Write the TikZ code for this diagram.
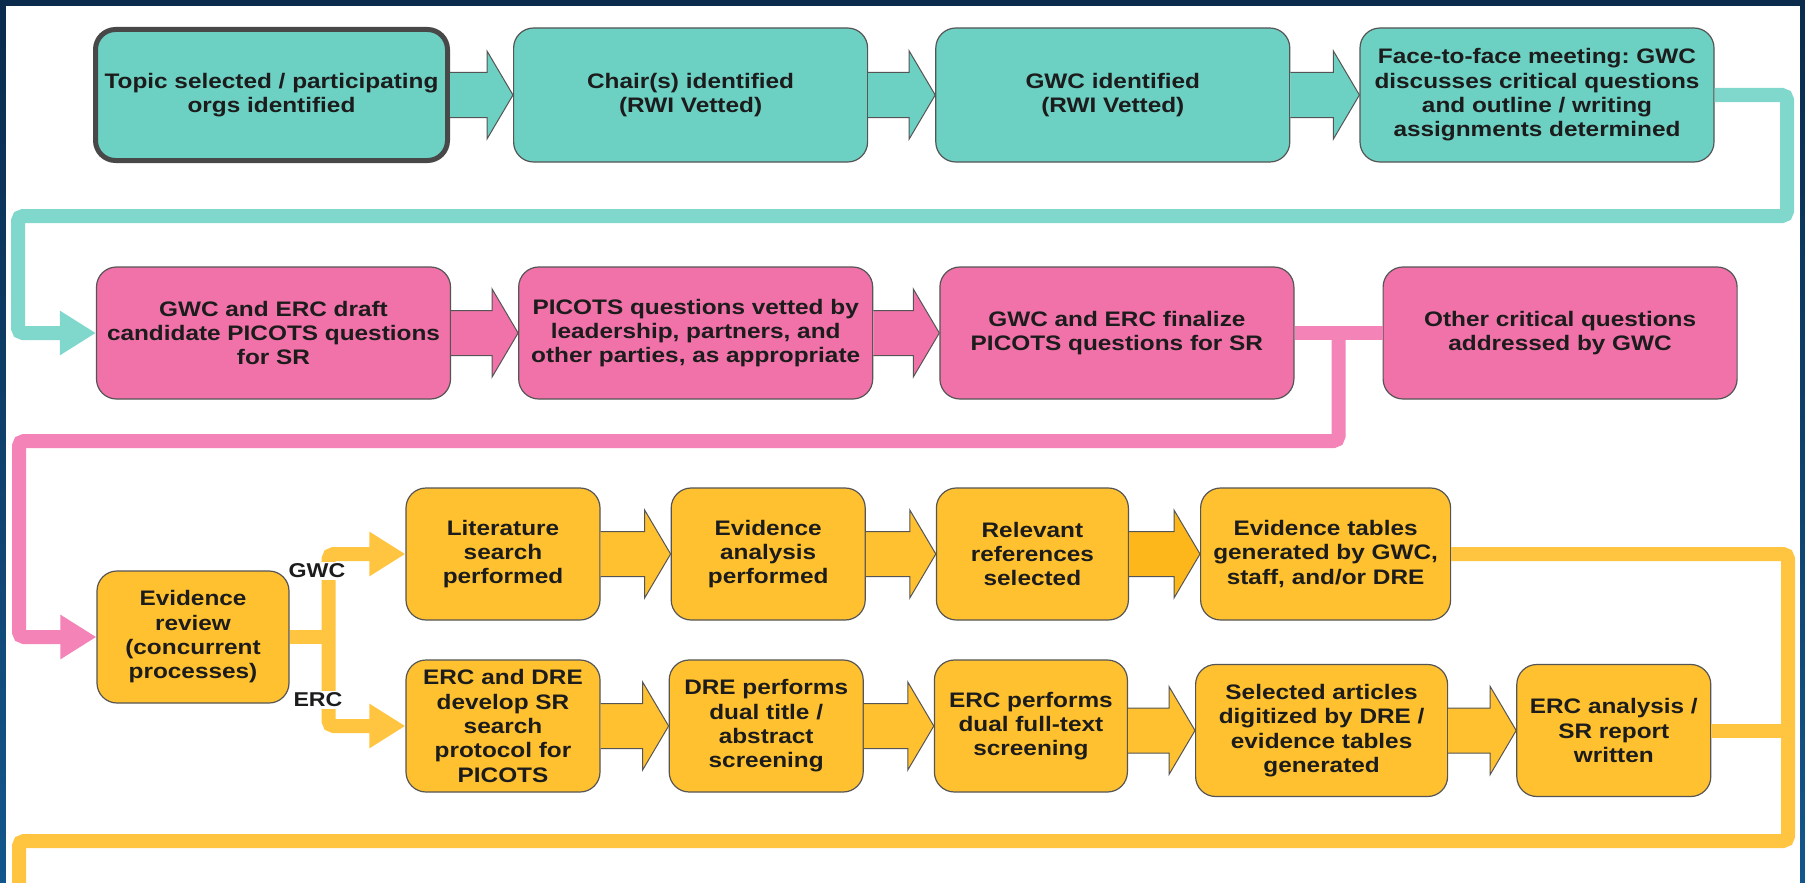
\documentclass[tikz,border=0pt]{standalone}
\usepackage{fontspec}
\setmainfont{Liberation Sans}[FakeStretch=1.16]
\usetikzlibrary{arrows.meta,positioning,calc}
\definecolor{navytop}{HTML}{0A2B4C}
\definecolor{navybot}{HTML}{13568C}
\definecolor{tealfill}{HTML}{6CD0C3}
\definecolor{pinkfill}{HTML}{F072A9}
\definecolor{goldfill}{HTML}{FFC12F}
\definecolor{golddeep}{HTML}{FDB71B}
\definecolor{teallink}{HTML}{80D8CC}
\definecolor{pinklink}{HTML}{F483B7}
\definecolor{goldlink}{HTML}{FFC540}
\definecolor{edge}{HTML}{555555}
\definecolor{ink}{HTML}{1C1C1C}
\newcommand{\boxfont}{\fontsize{21}{24.3}\selectfont\bfseries}
\frenchspacing
\tikzset{
  stage/.style={draw=edge,line width=1.2pt,rounded corners=20pt,align=center,inner sep=4pt,font=\boxfont,text=ink},
  tealstage/.style={stage,fill=tealfill,minimum width=354pt,minimum height=134pt},
  pinkstage/.style={stage,fill=pinkfill,minimum width=354pt,minimum height=132pt},
  goldstage/.style={stage,fill=goldfill,minimum width=194pt,minimum height=132pt},
  link/.style={line width=14pt,rounded corners=5pt},
  head/.style={-{Triangle[length=36pt,width=42pt]}},
  fat/.style={draw=edge,line width=1pt},
  branch/.style={font=\fontsize{20}{22}\selectfont\bfseries,text=ink,fill=white,inner sep=2pt}
}
\newcommand{\fatarrow}[3]{%
  \filldraw[fat,fill=#3] let \p1=(#1.east), \p2=(#2.west) in
    (\x1,\y2+22.5pt) -- (\x2-26pt,\y2+22.5pt) -- (\x2-26pt,\y2+44pt) -- (\x2,\y2)
    -- (\x2-26pt,\y2-44pt) -- (\x2-26pt,\y2-22.5pt) -- (\x1,\y2-22.5pt);
}

\begin{document}
\begin{tikzpicture}[x=1pt,y=-1pt]
  \useasboundingbox (0,0) rectangle (1805,883);
  \shade[top color=navytop,bottom color=navybot] (0,0) rectangle (1805,883);
  \fill[white] (6,6) rectangle (1800,900);

  \node[tealstage,draw=edge!85!black,line width=5pt,minimum width=352pt,minimum height=131pt] (topic) at (271.5,95) {Topic selected / participating\\orgs identified};
  \node[tealstage,right=63pt of topic] (chair) {Chair(s) identified\\(RWI Vetted)};
  \node[tealstage,right=67pt of chair] (gwc) {GWC identified\\(RWI Vetted)};
  \node[tealstage,right=69pt of gwc] (meet) {Face-to-face meeting: GWC\\discusses critical questions\\and outline / writing\\assignments determined};

  \node[pinkstage] (draft) at (273.5,333) {GWC and ERC draft\\candidate PICOTS questions\\for SR};
  \node[pinkstage,right=67pt of draft] (vetted) {PICOTS questions vetted by\\leadership, partners, and\\other parties, as appropriate};
  \node[pinkstage,right=66pt of vetted] (final) {GWC and ERC finalize\\PICOTS questions for SR};
  \node[pinkstage,right=88pt of final] (other) {Other critical questions\\addressed by GWC};

  \node[goldstage,minimum width=192pt] (review) at (193,637) {Evidence\\review\\(concurrent\\processes)};
  \node[goldstage] (lit) at (503,554) {Literature\\search\\performed};
  \node[goldstage,right=70pt of lit] (anal) {Evidence\\analysis\\performed};
  \node[goldstage,minimum width=192pt,right=70pt of anal] (rel) {Relevant\\references\\selected};
  \node[goldstage,minimum width=250pt,right=71pt of rel] (tables) {Evidence tables\\generated by GWC,\\staff, and/or DRE};
  \node[goldstage] (proto) at (503,726) {ERC and DRE\\develop SR\\search\\protocol for\\PICOTS};
  \node[goldstage,right=68pt of proto] (dual) {DRE performs\\dual title /\\abstract\\screening};
  \node[goldstage,minimum width=193pt,right=70pt of dual] (full) {ERC performs\\dual full-text\\screening};
  \node[goldstage,minimum width=252pt,right=67pt of full,yshift=-4.5pt] (digit) {Selected articles\\digitized by DRE /\\evidence tables\\generated};
  \node[goldstage,right=68pt of digit] (report) {ERC analysis /\\SR report\\written};

  \fatarrow{topic}{chair}{tealfill}
  \fatarrow{chair}{gwc}{tealfill}
  \fatarrow{gwc}{meet}{tealfill}
  \fatarrow{draft}{vetted}{pinkfill}
  \fatarrow{vetted}{final}{pinkfill}
  \fatarrow{lit}{anal}{goldfill}
  \fatarrow{anal}{rel}{goldfill}
  \fatarrow{rel}{tables}{golddeep}
  \fatarrow{proto}{dual}{goldfill}
  \fatarrow{dual}{full}{goldfill}
  \fatarrow{full}{digit}{goldfill}
  \fatarrow{digit}{report}{goldfill}

  \draw[link,draw=teallink,head] (meet.east) -| (1787,216) -| (18,333) -- (draft.west);

  \coordinate (fork1) at ($(final.east)!0.5!(other.west)$);
  \draw[link,draw=pinklink] (final.east) -- (other.west);
  \draw[link,draw=pinklink,head] (fork1) |- (19,441) |- (review.west);

  \coordinate (fork2) at ($(review.east)+(39,0)$);
  \draw[link,draw=goldlink] (review.east) -- (fork2);
  \draw[link,draw=goldlink,head] (fork2) |- (lit.west);
  \draw[link,draw=goldlink,head] (fork2) |- (proto.west);
  \node[branch] (gwclbl) at (317,571) {GWC};
  \node[branch] (erclbl) at (318,700) {ERC};

  \draw[link,draw=goldlink] (tables.east) -| (1788,841) -| (19,900);
  \draw[link,draw=goldlink] (report.east) -- ++(82,0);
\end{tikzpicture}
\end{document}
